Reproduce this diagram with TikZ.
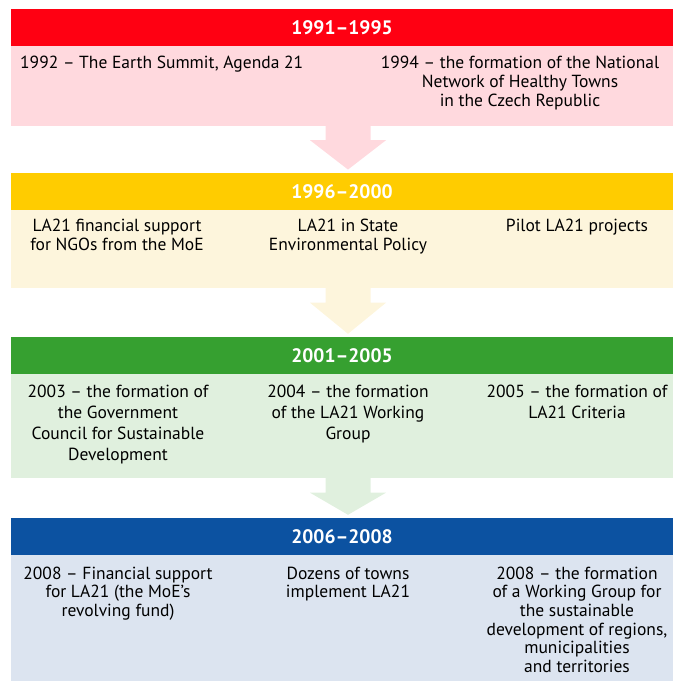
\documentclass[tikz,border=0pt]{standalone}
\usepackage{fontspec}
\setmainfont{PT Sans}
\usetikzlibrary{calc}
\definecolor{hredc}{RGB}{255,0,18}
\definecolor{bredc}{RGB}{255,217,222}
\definecolor{hyelc}{RGB}{255,204,0}
\definecolor{byelc}{RGB}{253,245,220}
\definecolor{hgrnc}{RGB}{54,160,48}
\definecolor{bgrnc}{RGB}{224,240,222}
\definecolor{hbluc}{RGB}{12,82,161}
\definecolor{bbluc}{RGB}{220,228,240}
\begin{document}
\begin{tikzpicture}[x=1pt,y=-1pt,
  hdr/.style={fill=#1, minimum width=662pt, minimum height=37pt, inner sep=0pt,
    text=white, font=\fontsize{19.5}{22}\selectfont\bfseries},
  bdy/.style={fill=#1, minimum width=662pt, inner sep=0pt},
  itm/.style={anchor=north, inner sep=0pt, align=center, text=black,
    font=\fontsize{17.5}{#1}\selectfont},
  itm/.default=19,
  barrow/.style={fill=#1}
]
\useasboundingbox (0,0) rectangle (673,681);
% headers and bodies
\node[hdr=hredc] (h1) at (342,27.5) {1991–1995};
\node[bdy=bredc, minimum height=79.5pt] (b1) at (342,85.75) {};
\node[hdr=hyelc] (h2) at (342,191.25) {1996–2000};
\node[bdy=byelc, minimum height=78pt] (b2) at (342,249) {};
\node[hdr=hgrnc] (h3) at (342,355.5) {2001–2005};
\node[bdy=bgrnc, minimum height=104pt] (b3) at (342,426) {};
\node[hdr=hbluc] (h4) at (342,536.5) {2006–2008};
\node[bdy=bbluc, minimum height=126pt] (b4) at (342,618) {};
% arrows
\coordinate (ax) at (348,0);
\foreach \b/\h/\c in {b1/h2/bredc, b2/h3/byelc, b3/h4/bgrnc}{
  \fill[barrow=\c] ($(ax |- \b.south)+(-22.5,-0.5)$) -- ++(0,15) -- ++(-15.5,0)
    -- ($(ax |- \h.north)+(0,-3)$) -- ($(ax |- \b.south)+(38,14.5)$) -- ++(-15.5,0)
    -- ++(0,-15) -- cycle;
}
% band 1
\node[itm, anchor=north west, align=left] (t11) at (20,55.5) {1992 – The Earth Summit, Agenda 21};
\node[itm] (t12) at (520,55.5) {1994 – the formation of the National\\Network of Healthy Towns\\in the Czech Republic};
% band 2
\node[itm] (t21) at (117,218.5) {LA21 financial support\\for NGOs from the MoE};
\node[itm] (t22) at (348,218.5) {LA21 in State\\Environmental Policy};
\node[itm] (t23) at (577,218.5) {Pilot LA21 projects};
% band 3
\node[itm=21] (t31) at (118,384.5) {2003 – the formation of\\the Government\\Council for Sustainable\\Development};
\node[itm=21] (t32) at (348,384.5) {2004 – the formation\\of the LA21 Working\\Group};
\node[itm=21] (t33) at (577,384.5) {2005 – the formation of\\LA21 Criteria};
% band 4
\node[itm=18.7] (t41) at (118,566.5) {2008 – Financial support\\for LA21 (the MoE’s\\revolving fund)};
\node[itm=18.7] (t42) at (348,566.5) {Dozens of towns\\implement LA21};
\node[itm=18.7] (t43) at (577,566.5) {2008 – the formation\\of a Working Group for\\the sustainable\\development of regions,\\municipalities\\and territories};
\end{tikzpicture}
\end{document}
